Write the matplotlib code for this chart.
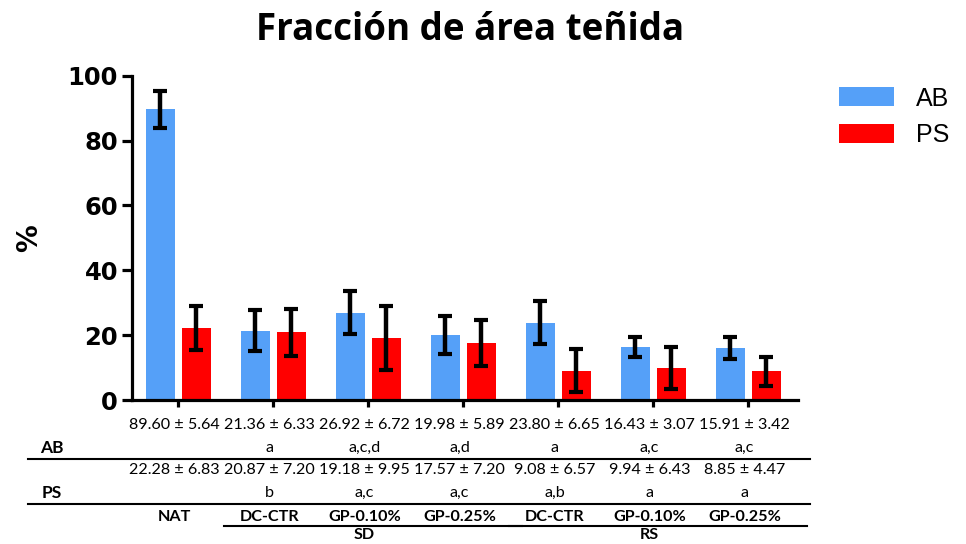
import numpy as np
import matplotlib
matplotlib.use("Agg")
from matplotlib import pyplot as plt
from matplotlib import transforms
from matplotlib.lines import Line2D

# medias ± DE por grupo
grupos = ["NAT", "DC-CTR", "GP-0.10%", "GP-0.25%", "DC-CTR", "GP-0.10%", "GP-0.25%"]
ab_media = [89.60, 21.36, 26.92, 19.98, 23.80, 16.43, 15.91]
ab_de = [5.64, 6.33, 6.72, 5.89, 6.65, 3.07, 3.42]
ab_letras = ["", "a", "a,c,d", "a,d", "a", "a,c", "a,c"]
ps_media = [22.28, 20.87, 19.18, 17.57, 9.08, 9.94, 8.85]
ps_de = [6.83, 7.20, 9.95, 7.20, 6.57, 6.43, 4.47]
ps_letras = ["", "b", "a,c", "a,c", "a,b", "a", "a"]
bloques = [("SD", 1, 3), ("RS", 4, 6)]

azul = "#55A0F8"
rojo = "#FF0000"

W, H = 966, 544
fig = plt.figure(figsize=(W / 100, H / 100), dpi=100)
ax = fig.add_axes([132 / W, 1 - 400 / H, (798 - 132) / W, (400 - 75.7) / H])

x = np.arange(len(grupos))
ancho = 0.305
ax.bar(x - 0.188, ab_media, ancho, color=azul, label="AB", zorder=2)
ax.bar(x + 0.188, ps_media, ancho, color=rojo, label="PS", zorder=2)
ax.errorbar(x - 0.188, ab_media, yerr=ab_de, fmt="none", ecolor="black",
            elinewidth=3.2, capsize=5, capthick=3, zorder=3)
ax.errorbar(x + 0.188, ps_media, yerr=ps_de, fmt="none", ecolor="black",
            elinewidth=3.2, capsize=5, capthick=3, zorder=3)

ax.set_xlim(-0.487, 6.523)
ax.set_ylim(0, 100)
ax.set_yticks([0, 20, 40, 60, 80, 100])
ax.set_xticks(x)
ax.set_xticklabels([])
for s in ["top", "right"]:
    ax.spines[s].set_visible(False)
for s in ["left", "bottom"]:
    ax.spines[s].set_linewidth(2.3)
ax.tick_params(axis="y", length=7, width=2.3, labelsize=17.5, pad=3)
ax.tick_params(axis="x", length=5, width=2.3)
for t in ax.get_yticklabels():
    t.set_fontweight("heavy")
    t.set_family("DejaVu Sans")
ax.set_ylabel("%", fontsize=20, fontweight="bold", family="DejaVu Sans", labelpad=18)

fig.text(470 / W, 1 - 30 / H, "Fracción de área teñida", ha="center", va="center",
         fontsize=26.5, fontweight="bold", family="Open Sans")

fig.legend(loc="upper left", bbox_to_anchor=(816 / W, 1 - 64 / H), frameon=False,
           handlelength=2.2, handleheight=0.8, handletextpad=0.9,
           labelspacing=0.5, prop={"family": "Liberation Sans", "size": 18})

# tabla bajo el eje
tr = transforms.blended_transform_factory(ax.transData, fig.transFigure)
fy = lambda p: 1 - p / H
fuente = "Lato"
ft = 11.6
for i in range(len(grupos)):
    fig.text(x[i] - 0.04, fy(425), f"{ab_media[i]:.2f} ± {ab_de[i]:.2f}", transform=tr,
             ha="center", va="center", fontsize=ft, family=fuente)
    fig.text(x[i] - 0.04, fy(448), ab_letras[i], transform=tr,
             ha="center", va="center", fontsize=ft, family=fuente)
    fig.text(x[i] - 0.04, fy(470), f"{ps_media[i]:.2f} ± {ps_de[i]:.2f}", transform=tr,
             ha="center", va="center", fontsize=ft, family=fuente)
    fig.text(x[i] - 0.04, fy(493), ps_letras[i], transform=tr,
             ha="center", va="center", fontsize=ft, family=fuente)
    fig.text(x[i] - 0.04, fy(517), grupos[i], transform=tr,
             ha="center", va="center", fontsize=ft, family=fuente, fontweight="bold")

fig.text(52 / W, fy(448), "AB", ha="center", va="center", fontsize=12.5,
         family=fuente, fontweight="bold")
fig.text(52 / W, fy(493), "PS", ha="center", va="center", fontsize=12.5,
         family=fuente, fontweight="bold")

for yp in [459, 504]:
    fig.add_artist(Line2D([28 / W, 810 / W], [fy(yp), fy(yp)], color="black", lw=1.5))

for nombre, a, b in bloques:
    x0 = a - 0.52
    x1 = b + 0.62
    fig.add_artist(Line2D([x0, x1], [fy(526), fy(526)], transform=tr, color="black", lw=1.5))
    fig.text((a + b) / 2 - 0.04, fy(535), nombre, transform=tr, ha="center", va="center",
             fontsize=ft, family=fuente, fontweight="bold")

fig.savefig("out.png", dpi=100)
